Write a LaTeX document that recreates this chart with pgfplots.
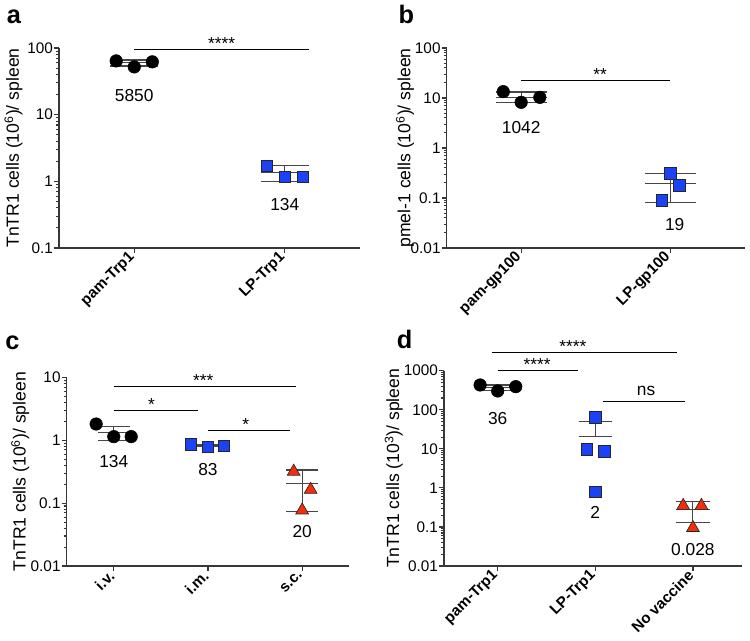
\documentclass[border=0pt]{standalone}
\usepackage{fontspec}
\setmainfont{Liberation Sans}
\usepackage{pgfplots}
\pgfplotsset{compat=1.18}
\definecolor{mblue}{RGB}{28,66,245}
\definecolor{mred}{RGB}{245,45,10}
\definecolor{agray}{RGB}{55,55,55}
\definecolor{lgray}{RGB}{70,70,70}
\pgfplotsset{
  mypanel/.style={
    scale only axis, clip=false,
    axis lines=left,
    axis line style={-, draw=agray, line width=0.9pt},
    xtick pos=left, ytick pos=left,
    major tick style={draw=agray, line width=0.9pt},
    minor tick style={draw=agray, line width=0.8pt},
    tick align=outside, major tick length=3.8pt, minor tick length=2.2pt,
    log ticks with fixed point,
    /pgf/number format/1000 sep={},
    yticklabel style={font=\fontsize{11.5}{12}\selectfont, inner sep=0.6pt},
    xticklabel style={rotate=45, anchor=east, font=\bfseries\fontsize{11.4}{12}\selectfont, inner sep=2pt},
    ylabel style={font=\fontsize{13.2}{14}\selectfont, anchor=center},
    /pgf/number format/assume math mode=true,
  },
  sdl/.style={draw=lgray, line width=0.8pt, no marks},
  circ/.style={only marks, mark=*, mark size=4.7pt, mark options={fill=black, draw=black, line width=0.4pt}},
  sqr/.style={only marks, mark=square*, mark size=4.3pt, mark options={fill=mblue, draw=black!85, line width=0.5pt}},
  tri/.style={only marks, mark=triangle*, mark size=5.5pt, mark options={fill=mred, draw=black!85, line width=0.5pt}},
}
\tikzset{
  lbl/.style={font=\fontsize{13}{14}\selectfont, inner sep=0pt, anchor=center},
  sig/.style={draw=black, line width=0.8pt},
  star/.style={font=\fontsize{13}{14}\selectfont, inner sep=0pt, anchor=base},
  letter/.style={font=\bfseries\fontsize{19}{20}\selectfont, inner sep=0pt, anchor=base west},
}
\begin{document}
\begin{tikzpicture}
\useasboundingbox (0,0) rectangle (562.5pt,-480.75pt);
% ---------------- panel a
\begin{axis}[ymode=log, mypanel, anchor=south west, at={(44.25pt,-186pt)}, width=225.75pt, height=150pt,
  xmin=-0.5, xmax=1.5, ymin=0.1, ymax=100,
  xtick={0,1}, xticklabels={pam-Trp1, LP-Trp1},
  ylabel={TnTR1 cells (10\textsuperscript{6})/ spleen},
  ylabel style={at={(axis description cs:-0.151,0.5)}},
]
\addplot[sdl] coordinates {(-0.16,60) (0.16,60)};
\addplot[sdl] coordinates {(-0.16,66) (0.16,66)};
\addplot[sdl] coordinates {(-0.16,53.7) (0.16,53.7)};
\addplot[sdl] coordinates {(0,53.7) (0,66)};
\addplot[sdl] coordinates {(0.84,1.35) (1.16,1.35)};
\addplot[sdl] coordinates {(0.84,1.72) (1.16,1.72)};
\addplot[sdl] coordinates {(0.84,0.99) (1.16,0.99)};
\addplot[sdl] coordinates {(1,0.99) (1,1.72)};
\addplot[circ] coordinates {(-0.12,64) (0,52) (0.12,62)};
\addplot[sqr] coordinates {(0.88,1.72) (1,1.16) (1.12,1.16)};
\node[lbl] at (axis cs:0,19.7) {5850};
\node[lbl] at (axis cs:1,0.443) {134};
\draw[sig] (axis cs:0,95) -- (axis cs:1.16,95);
\node[star] at (axis cs:0.58,95) {****};
\end{axis}
% ---------------- panel b
\begin{axis}[ymode=log, mypanel, anchor=south west, at={(335pt,-186pt)}, width=223.5pt, height=150pt,
  xmin=-0.5, xmax=1.5, ymin=0.01, ymax=100,
  xtick={0,1}, xticklabels={pam-gp100, LP-gp100},
  ylabel={pmel-1 cells (10\textsuperscript{6})/ spleen},
  ylabel style={at={(axis description cs:-0.14,0.5)}},
]
\addplot[sdl] coordinates {(-0.17,10.4) (0.17,10.4)};
\addplot[sdl] coordinates {(-0.17,13.2) (0.17,13.2)};
\addplot[sdl] coordinates {(-0.17,8.0) (0.17,8.0)};
\addplot[sdl] coordinates {(0,8.0) (0,13.2)};
\addplot[sdl] coordinates {(0.83,0.193) (1.17,0.193)};
\addplot[sdl] coordinates {(0.83,0.306) (1.17,0.306)};
\addplot[sdl] coordinates {(0.83,0.082) (1.17,0.082)};
\addplot[sdl] coordinates {(1,0.082) (1,0.306)};
\addplot[circ] coordinates {(-0.12,13.4) (0,8.2) (0.125,10.3)};
\addplot[sqr] coordinates {(1,0.31) (1.062,0.18) (0.945,0.09)};
\node[lbl] at (axis cs:0,2.55) {1042};
\node[lbl] at (axis cs:1.03,0.030) {19};
\draw[sig] (axis cs:0,22) -- (axis cs:1,22);
\node[star] at (axis cs:0.53,22) {**};
\end{axis}
% ---------------- panel c
\begin{axis}[ymode=log, mypanel, anchor=south west, at={(50pt,-424.5pt)}, width=211.95pt, height=141.5pt,
  xmin=-0.5, xmax=2.5, ymin=0.01, ymax=10,
  xtick={0,1,2}, xticklabels={i.v., i.m., s.c.},
  ylabel={TnTR1 cells (10\textsuperscript{6})/ spleen},
  ylabel style={at={(axis description cs:-0.164,0.5)}},
]
\addplot[sdl] coordinates {(-0.17,1.32) (0.17,1.32)};
\addplot[sdl] coordinates {(-0.17,1.68) (0.17,1.68)};
\addplot[sdl] coordinates {(-0.17,1.0) (0.17,1.0)};
\addplot[sdl] coordinates {(0,1.0) (0,1.68)};
\addplot[sdl] coordinates {(0.83,0.82) (1.17,0.82)};
\addplot[sdl] coordinates {(0.83,0.855) (1.17,0.855)};
\addplot[sdl] coordinates {(0.83,0.785) (1.17,0.785)};
\addplot[sdl] coordinates {(1,0.785) (1,0.855)};
\addplot[sdl] coordinates {(1.83,0.206) (2.17,0.206)};
\addplot[sdl] coordinates {(1.83,0.336) (2.17,0.336)};
\addplot[sdl] coordinates {(1.83,0.073) (2.17,0.073)};
\addplot[sdl] coordinates {(2,0.073) (2,0.336)};
\addplot[circ] coordinates {(-0.187,1.81) (0,1.14) (0.185,1.14)};
\addplot[sqr] coordinates {(0.82,0.86) (1,0.79) (1.17,0.82)};
\addplot[tri] coordinates {(1.91,0.318) (2.09,0.164) (2,0.077)};
\node[lbl] at (axis cs:0,0.455) {134};
\node[lbl] at (axis cs:1,0.336) {83};
\node[lbl] at (axis cs:2,0.0347) {20};
\draw[sig] (axis cs:0,7.1) -- (axis cs:1.93,7.1);
\node[star] at (axis cs:0.95,7.1) {***};
\draw[sig] (axis cs:0,2.94) -- (axis cs:0.89,2.94);
\node[star] at (axis cs:0.40,2.94) {*};
\draw[sig] (axis cs:1,1.45) -- (axis cs:1.876,1.45);
\node[star] at (axis cs:1.40,1.45) {*};
\end{axis}
% ---------------- panel d
\begin{axis}[ymode=log, mypanel, anchor=south west, at={(333pt,-424.5pt)}, width=223.3pt, height=146.5pt,
  xmin=-0.55, xmax=2.5, ymin=0.01, ymax=1000,
  xtick={0,1,2}, xticklabels={pam-Trp1, LP-Trp1, No vaccine},
  ylabel={TnTR1 cells (10\textsuperscript{3})/ spleen},
  ylabel style={at={(axis description cs:-0.169,0.5)}},
]
\addplot[sdl] coordinates {(-0.18,367) (0.18,367)};
\addplot[sdl] coordinates {(-0.18,430) (0.18,430)};
\addplot[sdl] coordinates {(-0.18,305) (0.18,305)};
\addplot[sdl] coordinates {(0,305) (0,430)};
\addplot[sdl] coordinates {(0.83,20.5) (1.17,20.5)};
\addplot[sdl] coordinates {(0.83,48.7) (1.17,48.7)};
\addplot[sdl] coordinates {(1,20.5) (1,48.7)};
\addplot[sdl] coordinates {(1.83,0.28) (2.17,0.28)};
\addplot[sdl] coordinates {(1.83,0.45) (2.17,0.45)};
\addplot[sdl] coordinates {(1.83,0.13) (2.17,0.13)};
\addplot[sdl] coordinates {(2,0.13) (2,0.45)};
\addplot[circ] coordinates {(-0.18,430) (0,302) (0.185,390)};
\addplot[sqr] coordinates {(1,64) (0.914,9.6) (1.094,8.5) (1,0.78)};
\addplot[tri] coordinates {(1.9,0.35) (2.087,0.35) (2,0.095)};
\node[lbl] at (axis cs:0,60.5) {36};
\node[lbl] at (axis cs:1,0.232) {2};
\node[lbl] at (axis cs:2,0.0268) {0.028};
\draw[sig] (axis cs:-0.055,2950) -- (axis cs:1.836,2950);
\node[star] at (axis cs:0.77,2950) {****};
\draw[sig] (axis cs:0,1000) -- (axis cs:0.824,1000);
\node[star] at (axis cs:0.405,1000) {****};
\draw[sig] (axis cs:1.074,162) -- (axis cs:1.922,162);
\node[star] at (axis cs:1.52,225) {ns};
\end{axis}
% ---------------- panel letters
\node[letter] at (5pt,-17.5pt) {a};
\node[letter] at (298.7pt,-17.5pt) {b};
\node[letter] at (3.75pt,-262pt) {c};
\node[letter] at (297.5pt,-261.2pt) {d};
\end{tikzpicture}
\end{document}
